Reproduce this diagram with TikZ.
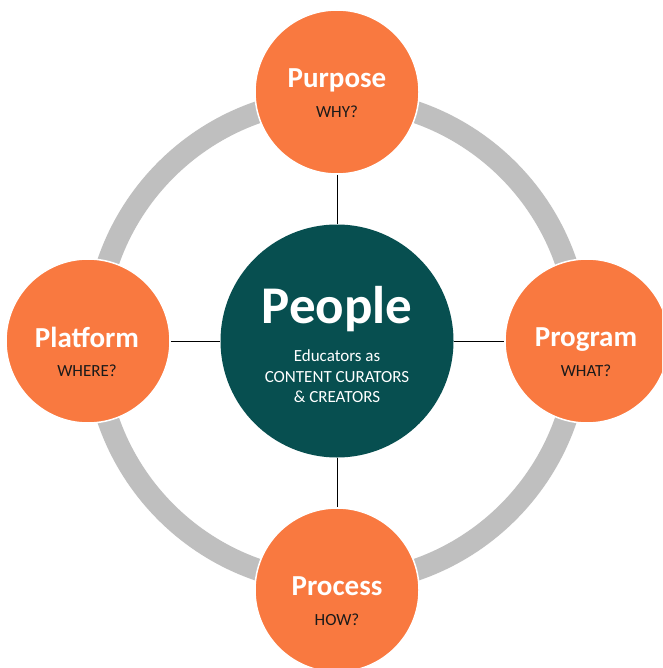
\documentclass[tikz,border=0pt]{standalone}
\usepackage{fontspec}
\setmainfont{Carlito}
\definecolor{orangefill}{HTML}{F97940}
\definecolor{tealfill}{HTML}{074F50}
\definecolor{ringgray}{HTML}{BFBFBF}
\definecolor{subtext}{HTML}{1A1A1A}
\tikzset{
  outercirc/.style={circle, fill=orangefill, draw=white, line width=1.5pt, minimum size=164pt, inner sep=0pt},
  centercirc/.style={circle, fill=tealfill, minimum size=233pt, inner sep=0pt},
  headtext/.style={anchor=base, text=white, inner sep=0pt, font=\fontsize{29}{34}\selectfont\bfseries},
  subtxt/.style={anchor=base, text=subtext, inner sep=0pt, font=\fontsize{17}{20}\selectfont},
  bigtext/.style={anchor=base, text=white, inner sep=0pt, font=\fontsize{53}{60}\selectfont\bfseries},
  ctrtext/.style={anchor=base, text=white, inner sep=0pt, font=\fontsize{17}{20}\selectfont},
  link/.style={draw=black, line width=1pt},
  ringline/.style={draw=ringgray, line width=22pt}
}
\begin{document}
\begin{tikzpicture}[x=1pt,y=-1pt]
\useasboundingbox (0,0) rectangle (662,668);
\clip (0,0) rectangle (662,668);
\fill[white] (0,0) rectangle (662,668);
\coordinate (ctr) at (337,341);
\draw[ringline] (ctr) circle[radius=242pt];
\node[centercirc] (people) at (ctr) {};
\node[outercirc] (purpose) at (337,92) {};
\node[outercirc] (platform) at (88,341) {};
\node[outercirc] (program) at (587,341) {};
\node[outercirc] (process) at (337,590) {};
\draw[link] (purpose.south) -- (people.north);
\draw[link] (platform.east) -- (people.west);
\draw[link] (people.east) -- (program.west);
\draw[link] (people.south) -- (process.north);
\node[headtext] (purposeh) at (337,88) {Purpose};
\node[subtxt] (purposes) at (337,118) {WHY?};
\node[headtext] (platformh) at (87,347) {Platform};
\node[subtxt] (platforms) at (87,376) {WHERE?};
\node[headtext] (programh) at (586,346) {Program};
\node[subtxt] (programs) at (586,376) {WHAT?};
\node[headtext] (processh) at (337,595) {Process};
\node[subtxt] (processs) at (337,625) {HOW?};
\node[bigtext] (peopleh) at (337,323) {People};
\node[ctrtext] (peoplea) at (337,361) {Educators as};
\node[ctrtext] (peopleb) at (337,382) {CONTENT CURATORS};
\node[ctrtext] (peoplec) at (337,402) {\& CREATORS};
\end{tikzpicture}
\end{document}
